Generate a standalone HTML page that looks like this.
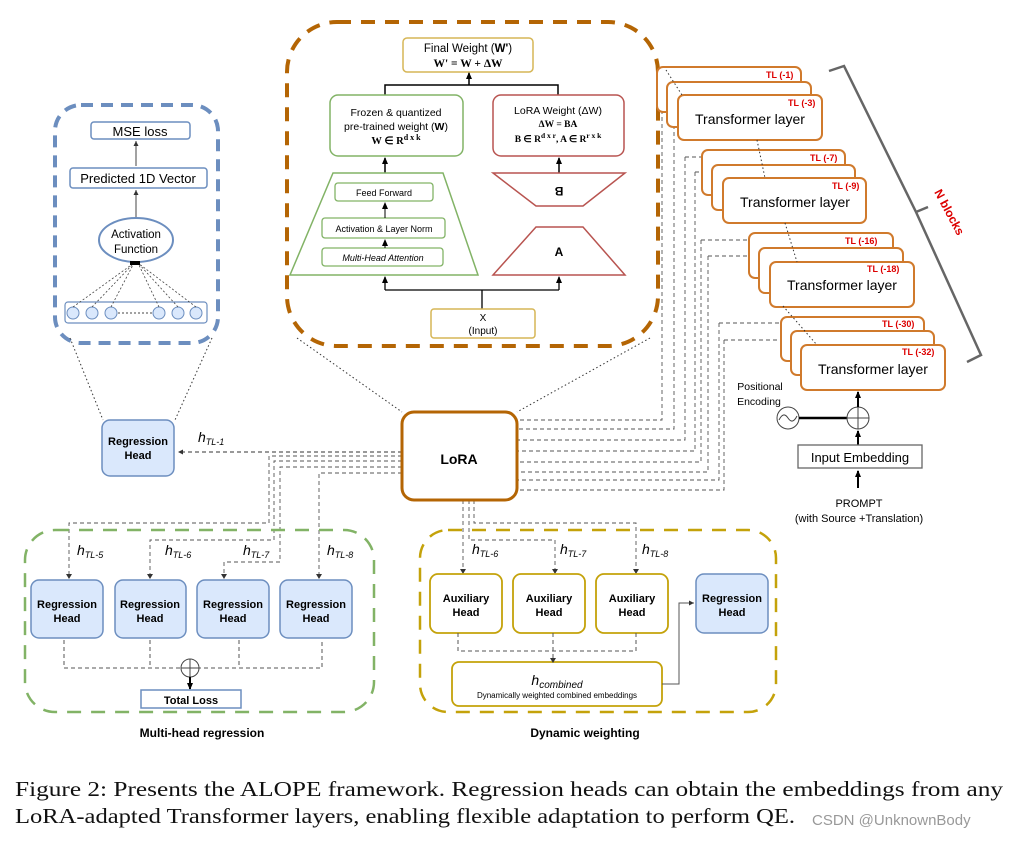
<!DOCTYPE html>
<html><head><meta charset="utf-8"><style>
body{margin:0;background:#fff}
svg text{font-family:"Liberation Sans",sans-serif}
svg text.serif, svg .serif text, svg text.serif tspan{font-family:"Liberation Serif",serif}
</style></head><body>
<svg width="1011" height="839" viewBox="0 0 1011 839" xmlns="http://www.w3.org/2000/svg">
<defs>
<marker id="a" markerWidth="8" markerHeight="8" refX="6" refY="4" orient="auto" markerUnits="userSpaceOnUse"><path d="M0,1 L7,4 L0,7z" fill="#000"/></marker>
<marker id="s" markerWidth="6" markerHeight="6" refX="5" refY="3" orient="auto" markerUnits="userSpaceOnUse"><path d="M0,0.5 L5,3 L0,5.5z" fill="#333"/></marker>
</defs>
<rect x="55" y="105" width="163" height="238" rx="26" fill="none" stroke="#6c8ebf" stroke-width="4" stroke-dasharray="12,8"/>
<rect x="91" y="122" width="99" height="17" rx="3" fill="#fff" stroke="#6c8ebf" stroke-width="1.5"/>
<text x="140" y="136" font-size="13" text-anchor="middle">MSE loss</text>
<rect x="70" y="168" width="137" height="20" rx="3" fill="#fff" stroke="#6c8ebf" stroke-width="1.5"/>
<text x="138" y="183" font-size="13" text-anchor="middle">Predicted 1D Vector</text>
<line x1="136" y1="218" x2="136" y2="190" stroke="#444" marker-end="url(#s)"/>
<line x1="136" y1="166" x2="136" y2="141" stroke="#444" marker-end="url(#s)"/>
<ellipse cx="136" cy="240" rx="37" ry="22" fill="#fff" stroke="#6c8ebf" stroke-width="2"/>
<text x="136" y="238" font-size="11.5" text-anchor="middle">Activation</text>
<text x="136" y="253" font-size="11.5" text-anchor="middle">Function</text>
<rect x="65" y="302" width="142" height="21" rx="3" fill="#fff" stroke="#6c8ebf" stroke-width="1.2"/>
<g fill="#dae8fc" stroke="#6c8ebf"><circle cx="73" cy="313" r="6"/><circle cx="92" cy="313" r="6"/><circle cx="111" cy="313" r="6"/><circle cx="159" cy="313" r="6"/><circle cx="178" cy="313" r="6"/><circle cx="196" cy="313" r="6"/></g>
<line x1="118" y1="313" x2="152" y2="313" stroke="#444" stroke-dasharray="2,2"/>
<g stroke="#444" stroke-width="0.8" stroke-dasharray="2,2"><line x1="73" y1="307" x2="134" y2="263"/><line x1="92" y1="307" x2="134" y2="263"/><line x1="111" y1="307" x2="134" y2="263"/><line x1="159" y1="307" x2="138" y2="263"/><line x1="178" y1="307" x2="138" y2="263"/><line x1="196" y1="307" x2="138" y2="263"/></g>
<rect x="130" y="261" width="10" height="4" fill="#000"/>
<g stroke="#333" stroke-dasharray="1.5,2.5"><line x1="70" y1="338" x2="103" y2="420"/><line x1="212" y1="338" x2="175" y2="420"/><line x1="297" y1="338" x2="402" y2="412"/><line x1="650" y1="338" x2="517" y2="412"/></g>
<rect x="102" y="420" width="72" height="56" rx="8" fill="#dae8fc" stroke="#6c8ebf" stroke-width="1.5"/>
<text x="138" y="445" font-size="11" font-weight="bold" text-anchor="middle">Regression</text>
<text x="138" y="459" font-size="11" font-weight="bold" text-anchor="middle">Head</text>
<text x="198" y="442" font-size="14" font-style="italic">h<tspan font-size="9" dy="3">TL-1</tspan></text>

<rect x="287" y="22" width="371" height="324" rx="50" fill="none" stroke="#b46504" stroke-width="4" stroke-dasharray="14,10"/>
<rect x="403" y="38" width="130" height="34" rx="4" fill="#fff" stroke="#d6b656" stroke-width="1.5"/>
<text x="468" y="52" font-size="11.5" text-anchor="middle">Final Weight (<tspan font-weight="bold">W'</tspan>)</text>
<text x="468" y="67" font-size="11.5" text-anchor="middle" font-weight="bold" class="serif">W' = W + ΔW</text>
<path d="M385,95 V85 H558 V95" fill="none" stroke="#000" stroke-width="1.5"/>
<line x1="469" y1="85" x2="469" y2="73" stroke="#000" stroke-width="1.5" marker-end="url(#a)"/>
<rect x="330" y="95" width="133" height="61" rx="8" fill="#fff" stroke="#82b366" stroke-width="1.5"/>
<text x="396" y="116" font-size="10.5" text-anchor="middle">Frozen &amp; quantized</text>
<text x="396" y="130" font-size="10.5" text-anchor="middle">pre-trained weight (<tspan font-weight="bold">W</tspan>)</text>
<text x="396" y="144" font-size="10.5" text-anchor="middle" font-weight="bold" class="serif">W ∈ R<tspan font-size="8" dy="-4">d x k</tspan></text>
<rect x="493" y="95" width="131" height="61" rx="8" fill="#fff" stroke="#b85450" stroke-width="1.5"/>
<text x="558" y="114" font-size="10.5" text-anchor="middle">LoRA Weight (ΔW)</text>
<text x="558" y="127" font-size="9.5" text-anchor="middle" font-weight="bold" class="serif">ΔW = BA</text>
<text x="558" y="142" font-size="9.5" text-anchor="middle" font-weight="bold" class="serif">B ∈ R<tspan font-size="7.5" dy="-4">d x r</tspan><tspan dy="4">, A ∈ R</tspan><tspan font-size="7.5" dy="-4">r x k</tspan></text>
<line x1="385" y1="173" x2="385" y2="158" stroke="#000" stroke-width="1.5" marker-end="url(#a)"/>
<line x1="559" y1="173" x2="559" y2="158" stroke="#000" stroke-width="1.5" marker-end="url(#a)"/>
<polygon points="333,173 443,173 478,275 290,275" fill="#fff" stroke="#82b366" stroke-width="1.5"/>
<rect x="335" y="183" width="98" height="18" rx="3" fill="#fff" stroke="#82b366" stroke-width="1.3"/>
<text x="384" y="196" font-size="9" text-anchor="middle">Feed Forward</text>
<rect x="322" y="218" width="123" height="20" rx="3" fill="#fff" stroke="#82b366" stroke-width="1.3"/>
<text x="384" y="232" font-size="9" text-anchor="middle">Activation &amp; Layer Norm</text>
<rect x="322" y="248" width="121" height="18" rx="3" fill="#fff" stroke="#82b366" stroke-width="1.3"/>
<text x="383" y="261" font-size="9" text-anchor="middle" font-style="italic">Multi-Head Attention</text>
<line x1="385" y1="218" x2="385" y2="203" stroke="#000" marker-end="url(#a)"/>
<line x1="385" y1="248" x2="385" y2="240" stroke="#000" marker-end="url(#a)"/>
<polygon points="493,173 625,173 583,206 536,206" fill="#fff" stroke="#b85450" stroke-width="1.5"/>
<text x="559" y="195" font-size="12" font-weight="bold" text-anchor="middle" transform="rotate(180 559 191)">B</text>
<polygon points="536,227 583,227 625,275 493,275" fill="#fff" stroke="#b85450" stroke-width="1.5"/>
<text x="559" y="256" font-size="12" font-weight="bold" text-anchor="middle">A</text>
<path d="M482,309 V290 H385 M482,290 H559" fill="none" stroke="#000" stroke-width="1.3"/>
<line x1="385" y1="290" x2="385" y2="277" stroke="#000" stroke-width="1.3" marker-end="url(#a)"/>
<line x1="559" y1="290" x2="559" y2="277" stroke="#000" stroke-width="1.3" marker-end="url(#a)"/>
<rect x="431" y="309" width="104" height="29" rx="3" fill="#fff" stroke="#d6b656" stroke-width="1.5"/>
<text x="483" y="321" font-size="10" text-anchor="middle">X</text>
<text x="483" y="334" font-size="10" text-anchor="middle">(Input)</text>

<g fill="none" stroke="#555" stroke-width="0.9" stroke-dasharray="4,3">
<path d="M662,75 V420 H517"/>
<path d="M674,90 V429 H517"/>
<path d="M685,157 V440 H517"/>
<path d="M695,172 V451 H517"/>
<path d="M701,240 V462 H517"/>
<path d="M708,256 V472 H517"/>
<path d="M719,323 V480 H517"/>
<path d="M724,340 V490 H517"/>
<path d="M662,75 H680"/><path d="M674,90 H690"/>
<path d="M685,157 H705"/><path d="M695,172 H715"/>
<path d="M701,240 H752"/><path d="M708,256 H762"/>
<path d="M719,323 H784"/><path d="M724,340 H794"/>
<path d="M402,456 H269 V523 H69 V576"/>
<path d="M402,461 H274 V540 H150 V576"/>
<path d="M402,467 H280 V562 H224 V576"/>
<path d="M402,473 H319 V576"/>
<path d="M463,500 V570"/>
<path d="M469,500 V540 H555 V570"/>
<path d="M474,500 V523 H636 V570"/>
</g>
<g stroke="#333"><line x1="402" y1="452" x2="178" y2="452" stroke-dasharray="4,3" marker-end="url(#s)"/></g>
<g fill="#333"><path d="M66,574 h6 l-3,5z"/><path d="M147,574 h6 l-3,5z"/><path d="M221,574 h6 l-3,5z"/><path d="M316,574 h6 l-3,5z"/><path d="M460,569 h6 l-3,5z"/><path d="M552,569 h6 l-3,5z"/><path d="M633,569 h6 l-3,5z"/></g>

<rect x="402" y="412" width="115" height="88" rx="12" fill="#fff" stroke="#b46504" stroke-width="3"/>
<text x="459" y="464" font-size="14" font-weight="bold" text-anchor="middle">LoRA</text>

<g font-size="9" fill="#d00" font-weight="bold">
<g stroke="#d07a2c" stroke-width="2" fill="#fff">
<rect x="657" y="67" width="144" height="45" rx="6"/><rect x="667" y="82" width="144" height="45" rx="6"/><rect x="678" y="95" width="144" height="45" rx="6"/>
<rect x="702" y="150" width="143" height="45" rx="6"/><rect x="712" y="165" width="143" height="45" rx="6"/><rect x="723" y="178" width="143" height="45" rx="6"/>
<rect x="749" y="233" width="144" height="45" rx="6"/><rect x="759" y="248" width="144" height="45" rx="6"/><rect x="770" y="262" width="144" height="45" rx="6"/>
<rect x="781" y="317" width="143" height="44" rx="6"/><rect x="791" y="331" width="143" height="44" rx="6"/><rect x="801" y="345" width="144" height="45" rx="6"/>
</g>
<text x="766" y="78">TL (-1)</text><text x="788" y="106">TL (-3)</text>
<text x="810" y="161">TL (-7)</text><text x="832" y="189">TL (-9)</text>
<text x="845" y="244">TL (-16)</text><text x="867" y="272">TL (-18)</text>
<text x="882" y="327">TL (-30)</text><text x="902" y="355">TL (-32)</text>
</g>
<g font-size="14" text-anchor="middle"><text x="750" y="124">Transformer layer</text><text x="795" y="207">Transformer layer</text><text x="842" y="290">Transformer layer</text><text x="873" y="374">Transformer layer</text></g>
<g stroke="#333" stroke-dasharray="1.5,2.5"><line x1="666" y1="70" x2="682" y2="95"/><line x1="757" y1="140" x2="765" y2="178"/><line x1="785" y1="223" x2="797" y2="262"/><line x1="783" y1="306" x2="817" y2="345"/></g>
<path d="M829,71 L844,66 L916,212 L981,355 L967,362 M916,212 L928,207" fill="none" stroke="#666" stroke-width="2.5"/>
<text x="934" y="192" font-size="12" fill="#d00" font-weight="bold" transform="rotate(62 934 192)">N blocks</text>
<text x="760" y="390" font-size="10.5" text-anchor="middle">Positional</text>
<text x="759" y="405" font-size="10.5" text-anchor="middle">Encoding</text>
<circle cx="788" cy="418" r="11" fill="#fff" stroke="#444"/>
<path d="M779,420 q4.5,-9 9,-2 q4.5,7 9,-2" fill="none" stroke="#444"/>
<line x1="799" y1="418" x2="847" y2="418" stroke="#000" stroke-width="2.5"/>
<circle cx="858" cy="418" r="11" fill="#fff" stroke="#444"/>
<path d="M847,418 H869 M858,407 V429" stroke="#444"/>
<line x1="858" y1="407" x2="858" y2="392" stroke="#000" stroke-width="2" marker-end="url(#a)"/>
<line x1="858" y1="445" x2="858" y2="431" stroke="#000" stroke-width="2" marker-end="url(#a)"/>
<rect x="798" y="445" width="124" height="23" fill="#fff" stroke="#666" stroke-width="1.3"/>
<text x="860" y="462" font-size="13" text-anchor="middle">Input Embedding</text>
<line x1="858" y1="488" x2="858" y2="471" stroke="#000" stroke-width="2" marker-end="url(#a)"/>
<text x="859" y="507" font-size="11" text-anchor="middle">PROMPT</text>
<text x="859" y="522" font-size="11" text-anchor="middle">(with Source +Translation)</text>

<rect x="25" y="530" width="349" height="182" rx="30" fill="none" stroke="#82b366" stroke-width="2.5" stroke-dasharray="14,10"/>
<g font-size="14" font-style="italic"><text x="77" y="555">h<tspan font-size="9" dy="3">TL-5</tspan></text><text x="165" y="555">h<tspan font-size="9" dy="3">TL-6</tspan></text><text x="243" y="555">h<tspan font-size="9" dy="3">TL-7</tspan></text><text x="327" y="555">h<tspan font-size="9" dy="3">TL-8</tspan></text>
<text x="472" y="554">h<tspan font-size="9" dy="3">TL-6</tspan></text><text x="560" y="554">h<tspan font-size="9" dy="3">TL-7</tspan></text><text x="642" y="554">h<tspan font-size="9" dy="3">TL-8</tspan></text></g>
<g fill="#dae8fc" stroke="#6c8ebf" stroke-width="1.5"><rect x="31" y="580" width="72" height="58" rx="8"/><rect x="115" y="580" width="71" height="58" rx="8"/><rect x="197" y="580" width="72" height="58" rx="8"/><rect x="280" y="580" width="72" height="58" rx="8"/><rect x="696" y="574" width="72" height="59" rx="8"/></g>
<g font-size="11" font-weight="bold" text-anchor="middle"><text x="67" y="608">Regression</text><text x="67" y="622">Head</text><text x="150" y="608">Regression</text><text x="150" y="622">Head</text><text x="233" y="608">Regression</text><text x="233" y="622">Head</text><text x="316" y="608">Regression</text><text x="316" y="622">Head</text><text x="732" y="602">Regression</text><text x="732" y="616">Head</text></g>
<path d="M64,640 V668 H322 V640 M150,640 V668 M239,640 V668" fill="none" stroke="#555" stroke-dasharray="4,3"/>
<circle cx="190" cy="668" r="9" fill="#fff" stroke="#444"/><path d="M181,668 H199 M190,659 V677" stroke="#444"/>
<line x1="190" y1="677" x2="190" y2="689" stroke="#000" stroke-width="2" marker-end="url(#a)"/>
<rect x="141" y="690" width="100" height="18" fill="#fff" stroke="#6c8ebf" stroke-width="1.5"/>
<text x="191" y="704" font-size="11" font-weight="bold" text-anchor="middle">Total Loss</text>
<text x="202" y="737" font-size="12" font-weight="bold" text-anchor="middle">Multi-head regression</text>

<rect x="420" y="530" width="356" height="182" rx="28" fill="none" stroke="#c4a20a" stroke-width="2.5" stroke-dasharray="14,10"/>
<g fill="#fff" stroke="#c4a20a" stroke-width="1.8"><rect x="430" y="574" width="72" height="59" rx="8"/><rect x="513" y="574" width="72" height="59" rx="8"/><rect x="596" y="574" width="72" height="59" rx="8"/><rect x="452" y="662" width="210" height="44" rx="7"/></g>
<g font-size="11" font-weight="bold" text-anchor="middle"><text x="466" y="602">Auxiliary</text><text x="466" y="616">Head</text><text x="549" y="602">Auxiliary</text><text x="549" y="616">Head</text><text x="632" y="602">Auxiliary</text><text x="632" y="616">Head</text></g>
<path d="M458,633 V651 H636 V633 M553,633 V660" fill="none" stroke="#555" stroke-dasharray="4,3"/>
<path d="M550,658 h6 l-3,5z" fill="#333"/>
<text x="557" y="685" font-size="14" font-style="italic" text-anchor="middle">h<tspan font-size="10" dy="3">combined</tspan></text>
<text x="557" y="698" font-size="8" text-anchor="middle">Dynamically weighted combined embeddings</text>
<path d="M662,684 H679 V603 H694" fill="none" stroke="#555" stroke-width="1" marker-end="url(#s)"/>
<text x="585" y="737" font-size="12" font-weight="bold" text-anchor="middle">Dynamic weighting</text>

<text class="serif" x="15" y="796" font-size="21" fill="#111" textLength="988" lengthAdjust="spacingAndGlyphs">Figure 2: Presents the ALOPE framework. Regression heads can obtain the embeddings from any</text>
<text class="serif" x="15" y="823" font-size="21" fill="#111" textLength="780" lengthAdjust="spacingAndGlyphs">LoRA-adapted Transformer layers, enabling flexible adaptation to perform QE.</text>
<text x="812" y="825" font-size="15" fill="#999">CSDN @UnknownBody</text>
</svg>
</body></html>
